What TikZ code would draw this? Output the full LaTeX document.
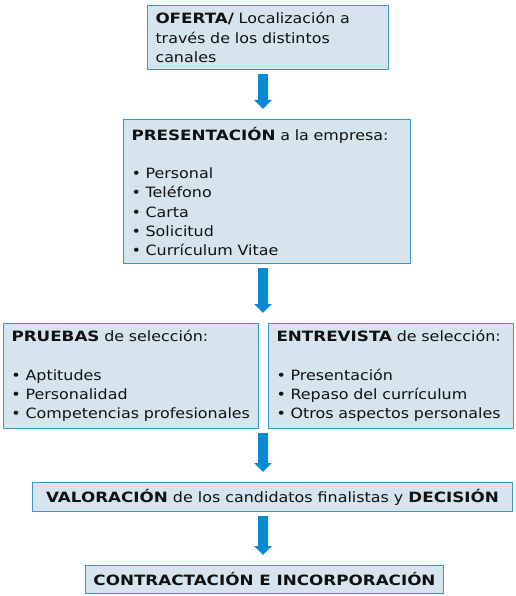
\documentclass[tikz,border=0pt]{standalone}
\usepackage{fontspec}
\setmainfont{DejaVu Sans}[FakeStretch=1.12,BoldFeatures={FakeStretch=1.18}]
\usetikzlibrary{arrows.meta,calc}
\definecolor{boxfill}{HTML}{D6E5ED}
\definecolor{boxline}{HTML}{3A96CF}
\definecolor{arrowblue}{HTML}{0A8AD4}
\definecolor{txt}{HTML}{111111}
\begin{document}
\begin{tikzpicture}[x=1pt,y=-1pt,
  stepbox/.style={draw=boxline,fill=boxfill,line width=1pt,anchor=north west,
    align=left,inner xsep=8pt,inner ysep=0pt,text=txt,
    font=\fontsize{14.2}{19.2}\selectfont},
  onebox/.style={draw=boxline,fill=boxfill,line width=1pt,anchor=north west,
    inner xsep=2pt,inner ysep=0pt,text=txt,
    font=\fontsize{14.2}{19.2}\selectfont},
  bigarrow/.style={draw=arrowblue,line width=10pt,
    -{Triangle[width=17pt,length=9pt]},shorten <=4pt,shorten >=10pt}]
\useasboundingbox (0,0) rectangle (515,596);
\node[stepbox,minimum width=241pt,minimum height=64pt,text width=225pt] (b1) at (147,5)
  {\textbf{OFERTA/} Localización a\\través de los distintos\\canales};
\node[stepbox,minimum width=287pt,minimum height=144pt,text width=271pt] (b2) at (123,119)
  {\textbf{PRESENTACIÓN} a la empresa:\\[19.2pt]• Personal\\• Teléfono\\• Carta\\• Solicitud\\• Currículum Vitae};
\node[stepbox,minimum width=255pt,minimum height=105pt,text width=239pt] (p) at (3,323)
  {\textbf{PRUEBAS} de selección:\\[19.2pt]• Aptitudes\\• Personalidad\\• Competencias profesionales};
\node[stepbox,minimum width=245pt,minimum height=105pt,text width=229pt] (e) at (268,323)
  {\textbf{ENTREVISTA} de selección:\\[19.2pt]• Presentación\\• Repaso del currículum\\• Otros aspectos personales};
\node[onebox,minimum width=480pt,minimum height=29pt] (v) at (32,482)
  {\textbf{VALORACIÓN} de los candidatos finalistas y \textbf{DECISIÓN}};
\node[onebox,minimum width=358pt,minimum height=28pt] (c) at (85,565)
  {\textbf{CONTRACTACIÓN E INCORPORACIÓN}};
\coordinate (ax) at (263,0);
\draw[bigarrow] (b1.south -| ax) -- (b2.north -| ax);
\draw[bigarrow] (b2.south -| ax) -- (p.north -| ax);
\draw[bigarrow] (p.south -| ax) -- (v.north -| ax);
\draw[bigarrow] (v.south -| ax) -- (c.north -| ax);
\end{tikzpicture}
\end{document}
